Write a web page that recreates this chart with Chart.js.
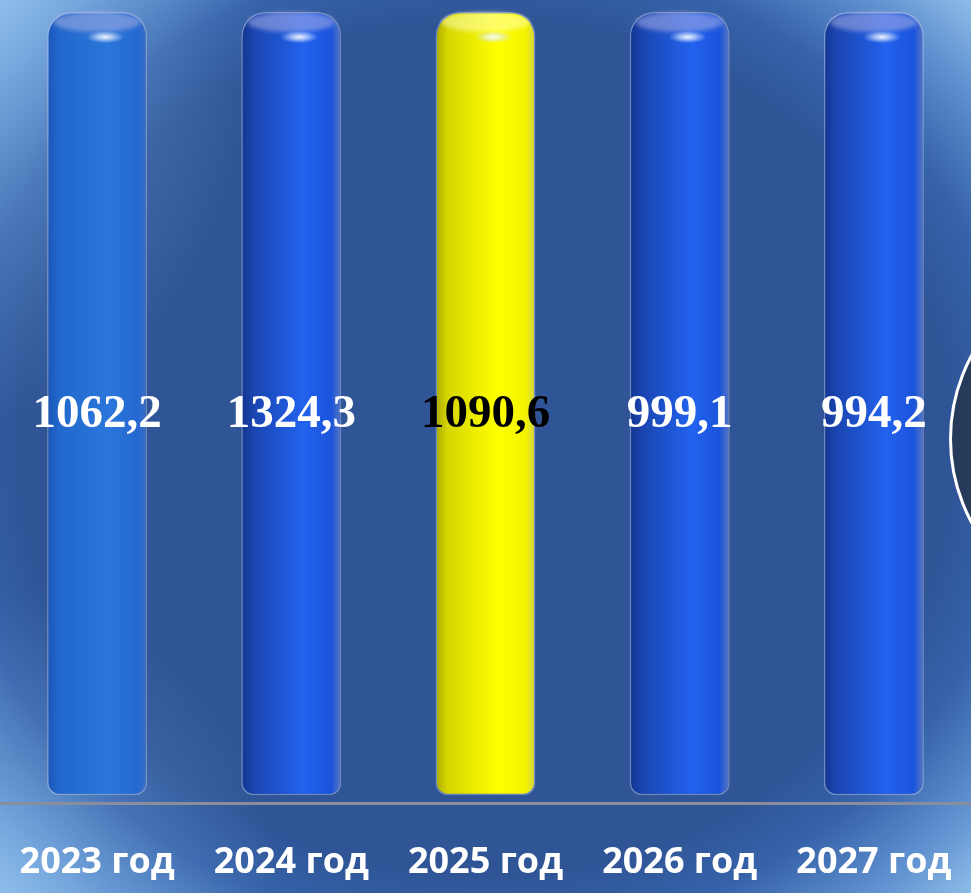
<!DOCTYPE html>
<html>
<head>
<meta charset="utf-8">
<script src="https://cdn.jsdelivr.net/npm/chart.js@4.4.1/dist/chart.umd.min.js"></script>
<style>
    html, body {
        margin: 0;
        padding: 0;
    }
    body {
        width: 971px;
        height: 893px;
        overflow: hidden;
        position: relative;
        background:
            radial-gradient(ellipse 260px 420px at 0 0, rgba(140,190,235,0.55) 0%, rgba(140,190,235,0.25) 45%, rgba(140,190,235,0) 100%),
            radial-gradient(ellipse 280px 300px at 0 100%, rgba(140,190,235,0.5) 0%, rgba(140,190,235,0.2) 45%, rgba(140,190,235,0) 100%),
            radial-gradient(ellipse farthest-corner at 50% 50%, #2f5597 0%, #2f5597 68%, #3763aa 78%, #5f90cf 90%, #8fbde8 100%);
    }
    #grafico {
        position: absolute;
        left: 0;
        top: 0;
    }
    .circulo {
        position: absolute;
        left: 949px;
        top: 262px;
        width: 348px;
        height: 348px;
        border-radius: 50%;
        border: 3px solid #ffffff;
        background: #263a5a;
    }
</style>
</head>
<body>
<canvas id="grafico" width="971" height="893"></canvas>
<div class="circulo"></div>

<script>
// dados do gráfico
var anos = ["2023 год", "2024 год", "2025 год", "2026 год", "2027 год"]
var valores = [1062.2, 1324.3, 1090.6, 999.1, 994.2]
// no desenho todas as colunas têm a mesma altura (100%)
var alturas = [100, 100, 100, 100, 100]

// cores de cada coluna (esquerda escura -> brilho -> borda)
var cores = [
    ["#1b55b8", "#2168cc", "#2b76da", "#2469d2", "#3c6fc0"],
    ["#12358f", "#1a45b0", "#2262ee", "#1b54db", "#5a78c0"],
    ["#a9a900", "#d6d600", "#ffff00", "#f4f400", "#d2d24a"],
    ["#12358f", "#1a45b0", "#2262ee", "#1b54db", "#5a78c0"],
    ["#12358f", "#1a45b0", "#2262ee", "#1b54db", "#5a78c0"]
]
var corTexto = ["#ffffff", "#ffffff", "#000000", "#ffffff", "#ffffff"]

function formatar(v) {
    return v.toFixed(1).replace(".", ",")
}

function corColuna(context) {
    var chart = context.chart
    var escala = chart.scales.x
    var i = context.dataIndex
    if (!chart.chartArea || !escala || i === undefined) {
        return cores[i || 0][2]
    }
    var x = escala.getPixelForValue(i)
    var largura = escala.width / anos.length * 0.515
    var g = chart.ctx.createLinearGradient(x - largura / 2, 0, x + largura / 2, 0)
    var c = cores[i]
    g.addColorStop(0, c[0])
    g.addColorStop(0.12, c[1])
    g.addColorStop(0.62, c[2])
    g.addColorStop(0.9, c[3])
    g.addColorStop(1, c[4])
    return g
}

// tampa, brilho e rótulos de valor
var detalhes = {
    id: "detalhes",
    afterDatasetsDraw: function (chart) {
        var ctx = chart.ctx
        var meta = chart.getDatasetMeta(0)
        meta.data.forEach(function (el, i) {
            var w = el.width
            var topo = el.y

            ctx.save()
            // tampa elíptica
            ctx.beginPath()
            ctx.ellipse(el.x, topo + 10, w / 2 - 6, 10, 0, 0, Math.PI * 2)
            ctx.fillStyle = i == 2 ? "rgba(255,255,200,0.5)" : "rgba(170,175,225,0.55)"
            ctx.filter = "blur(2px)"
            ctx.fill()
            ctx.filter = "none"

            // brilho
            var hx = el.x + w * 0.08
            var hy = topo + 25
            var rg = ctx.createRadialGradient(hx, hy, 0, hx, hy, 19)
            rg.addColorStop(0, "rgba(255,255,255,0.95)")
            rg.addColorStop(0.45, "rgba(230,240,255,0.6)")
            rg.addColorStop(1, "rgba(200,220,255,0)")
            ctx.translate(hx, hy)
            ctx.scale(1, 0.33)
            ctx.translate(-hx, -hy)
            ctx.beginPath()
            ctx.arc(hx, hy, 19, 0, Math.PI * 2)
            ctx.fillStyle = rg
            ctx.fill()
            ctx.restore()

            // valor
            ctx.save()
            ctx.font = "bold 47px 'Liberation Serif', 'Times New Roman', serif"
            ctx.fillStyle = corTexto[i]
            ctx.textAlign = "center"
            ctx.textBaseline = "middle"
            ctx.fillText(formatar(valores[i]), el.x, (el.y + el.base) / 2 + 11)
            ctx.restore()
        })
    }
}

var canvas = document.getElementById("grafico")

var grafico = new Chart(canvas, {
    type: "bar",
    data: {
        labels: anos,
        datasets: [{
            label: "Valores",
            data: alturas,
            backgroundColor: corColuna,
            borderColor: "rgba(190,200,235,0.45)",
            borderWidth: 1.5,
            borderSkipped: false,
            borderRadius: { topLeft: 24, topRight: 24, bottomLeft: 12, bottomRight: 12 },
            barPercentage: 0.515,
            categoryPercentage: 1
        }]
    },
    options: {
        responsive: false,
        animation: false,
        devicePixelRatio: 1,
        layout: {
            padding: { top: 12, left: 0, right: 0, bottom: 0 }
        },
        plugins: {
            legend: { display: false },
            tooltip: { enabled: false }
        },
        scales: {
            x: {
                grid: { display: false, drawTicks: false },
                border: { display: true, color: "#8a8e9c", width: 3 },
                ticks: {
                    color: "#ffffff",
                    padding: 38,
                    font: { family: "'Open Sans'", size: 36, weight: "bold" }
                },
                afterFit: function (scale) {
                    scale.height = 90
                    scale.paddingLeft = 0
                    scale.paddingRight = 0
                }
            },
            y: {
                display: false,
                min: -1,
                max: 100
            }
        }
    },
    plugins: [detalhes]
})
</script>
</body>
</html>
